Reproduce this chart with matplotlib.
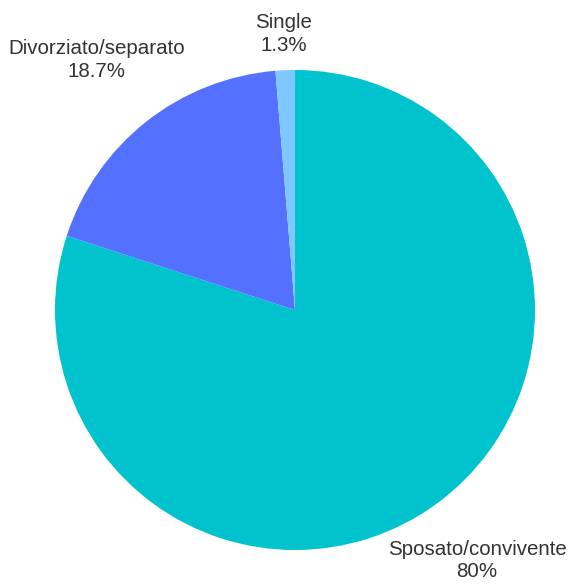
import matplotlib

matplotlib.use("Agg")
import matplotlib.pyplot as plt
import numpy as np

categories = ["Sposato/convivente", "Divorziato/separato", "Single"]
shares = [80.0, 18.7, 1.3]
share_labels = ["80%", "18.7%", "1.3%"]
colors = ["#00C3CD", "#5470FF", "#7CC8FF"]
label_radius = [1.29, 1.33, 1.15]

W, H = 571, 585
fig = plt.figure(figsize=(W / 100, H / 100), dpi=100)
fig.patch.set_facecolor("white")

# pie centre at (295, 310) px from top-left, radius 240 px
cx, cy, r = 295, 310, 240
ax = fig.add_axes([(cx - r) / W, (H - cy - r) / H, 2 * r / W, 2 * r / H])

wedges, _ = ax.pie(
    shares,
    colors=colors,
    startangle=90,
    counterclock=False,
    radius=1,
    wedgeprops=dict(linewidth=0),
)
ax.set_xlim(-1, 1)
ax.set_ylim(-1, 1)
ax.set_aspect("equal")
ax.axis("off")

for w, name, pct, rad in zip(wedges, categories, share_labels, label_radius):
    mid = np.deg2rad((w.theta1 + w.theta2) / 2)
    ax.text(
        rad * np.cos(mid),
        rad * np.sin(mid),
        f"{name}\n{pct}",
        ha="center",
        va="center",
        fontsize=14.8,
        color="#333333",
        family=["Liberation Sans", "DejaVu Sans"],
        linespacing=1.25,
        clip_on=False,
    )

fig.savefig("out.png", dpi=100)
